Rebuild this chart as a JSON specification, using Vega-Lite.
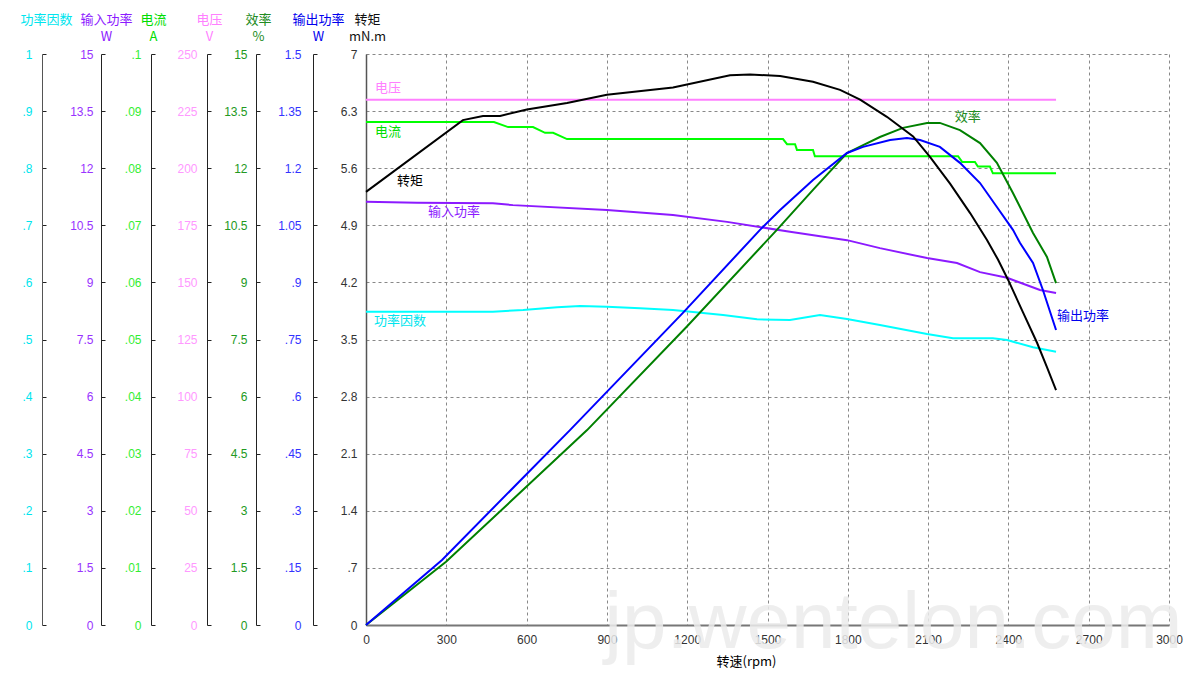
{
  "$schema": "https://vega.github.io/schema/vega-lite/v6.json",
  "width": 803,
  "height": 571,
  "autosize": {"type": "none"},
  "padding": {"left": 366, "top": 54, "right": 31, "bottom": 54},
  "background": "#ffffff",
  "config": {
    "font": "Liberation Sans",
    "view": {"stroke": null},
    "axis": {"labelFont": "Liberation Sans", "labelFontSize": 12, "titleFont": "Noto Sans CJK SC", "titleFontSize": 13, "titleFontWeight": "normal", "labelOverlap": false, "labelFlush": false}
  },
  "datasets": {
    "voltage": [{"rpm": 0, "v": 230}, {"rpm": 2578, "v": 230}],
    "current": [
      {"rpm": 0, "v": 0.0881}, {"rpm": 478, "v": 0.0881}, {"rpm": 531, "v": 0.0872}, {"rpm": 624, "v": 0.0872},
      {"rpm": 669, "v": 0.0862}, {"rpm": 699, "v": 0.0862}, {"rpm": 751, "v": 0.0851}, {"rpm": 1558, "v": 0.0851},
      {"rpm": 1573, "v": 0.0842}, {"rpm": 1603, "v": 0.0842}, {"rpm": 1610, "v": 0.0832}, {"rpm": 1670, "v": 0.0832},
      {"rpm": 1677, "v": 0.0821}, {"rpm": 2212, "v": 0.0821}, {"rpm": 2227, "v": 0.0811}, {"rpm": 2275, "v": 0.0811},
      {"rpm": 2286, "v": 0.0803}, {"rpm": 2331, "v": 0.0803}, {"rpm": 2342, "v": 0.0791}, {"rpm": 2578, "v": 0.0791}
    ],
    "pf": [
      {"rpm": 0, "v": 0.5487}, {"rpm": 474, "v": 0.5487}, {"rpm": 587, "v": 0.5517}, {"rpm": 714, "v": 0.5564},
      {"rpm": 800, "v": 0.5587}, {"rpm": 900, "v": 0.5574}, {"rpm": 1024, "v": 0.5546}, {"rpm": 1147, "v": 0.5517},
      {"rpm": 1334, "v": 0.5429}, {"rpm": 1461, "v": 0.5354}, {"rpm": 1584, "v": 0.5341}, {"rpm": 1696, "v": 0.5429},
      {"rpm": 1797, "v": 0.5359}, {"rpm": 1920, "v": 0.5254}, {"rpm": 2096, "v": 0.5096}, {"rpm": 2193, "v": 0.5021},
      {"rpm": 2342, "v": 0.5021}, {"rpm": 2395, "v": 0.4991}, {"rpm": 2492, "v": 0.4863}, {"rpm": 2578, "v": 0.4786}
    ],
    "pin": [
      {"rpm": 0, "v": 11.12}, {"rpm": 191, "v": 11.09}, {"rpm": 474, "v": 11.08}, {"rpm": 549, "v": 11.03},
      {"rpm": 900, "v": 10.9}, {"rpm": 1147, "v": 10.77}, {"rpm": 1349, "v": 10.59}, {"rpm": 1584, "v": 10.33},
      {"rpm": 1797, "v": 10.11}, {"rpm": 1920, "v": 9.9}, {"rpm": 2096, "v": 9.64}, {"rpm": 2208, "v": 9.51},
      {"rpm": 2294, "v": 9.27}, {"rpm": 2395, "v": 9.12}, {"rpm": 2518, "v": 8.8}, {"rpm": 2578, "v": 8.72}
    ],
    "eff": [
      {"rpm": 0, "v": 0}, {"rpm": 299, "v": 1.66}, {"rpm": 826, "v": 5.12}, {"rpm": 1199, "v": 7.84},
      {"rpm": 1535, "v": 10.38}, {"rpm": 1670, "v": 11.43}, {"rpm": 1797, "v": 12.4}, {"rpm": 1920, "v": 12.82},
      {"rpm": 2006, "v": 13.06}, {"rpm": 2096, "v": 13.19}, {"rpm": 2144, "v": 13.19}, {"rpm": 2219, "v": 13.0},
      {"rpm": 2294, "v": 12.66}, {"rpm": 2357, "v": 12.14}, {"rpm": 2417, "v": 11.35}, {"rpm": 2492, "v": 10.3},
      {"rpm": 2544, "v": 9.67}, {"rpm": 2578, "v": 8.98}
    ],
    "pout": [
      {"rpm": 0, "v": 0}, {"rpm": 284, "v": 0.171}, {"rpm": 762, "v": 0.512}, {"rpm": 1184, "v": 0.82},
      {"rpm": 1472, "v": 1.038}, {"rpm": 1547, "v": 1.09}, {"rpm": 1670, "v": 1.169}, {"rpm": 1797, "v": 1.24},
      {"rpm": 1857, "v": 1.256}, {"rpm": 1958, "v": 1.274}, {"rpm": 2021, "v": 1.279}, {"rpm": 2070, "v": 1.274},
      {"rpm": 2144, "v": 1.256}, {"rpm": 2219, "v": 1.214}, {"rpm": 2294, "v": 1.161}, {"rpm": 2357, "v": 1.098},
      {"rpm": 2417, "v": 1.038}, {"rpm": 2443, "v": 1.004}, {"rpm": 2492, "v": 0.951}, {"rpm": 2529, "v": 0.88},
      {"rpm": 2578, "v": 0.775}
    ],
    "torque": [
      {"rpm": 0, "v": 5.31}, {"rpm": 362, "v": 6.19}, {"rpm": 437, "v": 6.24}, {"rpm": 501, "v": 6.24},
      {"rpm": 601, "v": 6.32}, {"rpm": 751, "v": 6.4}, {"rpm": 900, "v": 6.5}, {"rpm": 1147, "v": 6.59},
      {"rpm": 1360, "v": 6.74}, {"rpm": 1435, "v": 6.75}, {"rpm": 1547, "v": 6.73}, {"rpm": 1670, "v": 6.66},
      {"rpm": 1771, "v": 6.56}, {"rpm": 1846, "v": 6.44}, {"rpm": 1946, "v": 6.23}, {"rpm": 2044, "v": 5.99},
      {"rpm": 2107, "v": 5.74}, {"rpm": 2182, "v": 5.41}, {"rpm": 2257, "v": 5.05}, {"rpm": 2320, "v": 4.72},
      {"rpm": 2361, "v": 4.48}, {"rpm": 2399, "v": 4.23}, {"rpm": 2455, "v": 3.83}, {"rpm": 2507, "v": 3.46},
      {"rpm": 2544, "v": 3.16}, {"rpm": 2578, "v": 2.88}
    ],
    "labels": [
      {"rpm": 34, "v": 6.58, "t": "电压"},
      {"rpm": 34, "v": 6.04, "t": "电流"},
      {"rpm": 116, "v": 5.44, "t": "转矩"},
      {"rpm": 232, "v": 5.06, "t": "输入功率"},
      {"rpm": 30, "v": 3.73, "t": "功率因数"},
      {"rpm": 2200, "v": 6.23, "t": "效率"},
      {"rpm": 2582, "v": 3.79, "t": "输出功率"}
    ],
    "wm": [{"rpm": 1970, "v": -0.28, "t": "jp.wentelon.com"}]
  },
  "encoding": {
    "x": {
      "field": "rpm", "type": "quantitative",
      "scale": {"domain": [0, 3000], "nice": false, "zero": false},
      "axis": {
        "values": [0, 300, 600, 900, 1200, 1500, 1800, 2100, 2400, 2700, 3000],
        "format": "d",
        "grid": true, "gridDash": [3, 3], "gridColor": "#888888", "gridWidth": 1,
        "ticks": false, "domainColor": "#777777", "domainWidth": 2,
        "labelColor": "#333333", "labelPadding": 9, "labelFontSize": 12,
        "title": "转速(rpm)", "titleX": 380, "titleY": 36, "titleAlign": "center", "titleBaseline": "middle",
        "titleColor": "#000000", "titleFontSize": 13
      }
    }
  },
  "layer": [
    {
      "data": {"name": "voltage"},
      "mark": {"type": "line", "color": "#FF80FF", "strokeWidth": 2},
      "encoding": {"y": {"field": "v", "type": "quantitative", "scale": {"domain": [0, 250], "nice": false, "zero": false},
        "axis": {"orient": "left", "offset": 159, "values": [0, 25, 50, 75, 100, 125, 150, 175, 200, 225, 250], "grid": false,
          "domainColor": "#222222", "domainWidth": 1, "tickColor": "#222222", "tickSize": -4, "labelPadding": 14, "labelColor": "#FF99FF",
          "labelExpr": "datum.value > 0 && datum.value < 1 ? slice(format(datum.value, '.3~f'), 1) : format(datum.value, '.3~f')",
          "title": ["电压", "V"], "titleColor": "#FF80FF", "titleAngle": 0, "titleAlign": "center", "titleBaseline": "alphabetic", "titleX": 2, "titleY": -31, "titleLineHeight": 17}}}
    },
    {
      "data": {"name": "current"},
      "mark": {"type": "line", "color": "#00FF00", "strokeWidth": 2},
      "encoding": {"y": {"field": "v", "type": "quantitative", "scale": {"domain": [0, 0.1], "nice": false, "zero": false},
        "axis": {"orient": "left", "offset": 215, "values": [0, 0.01, 0.02, 0.03, 0.04, 0.05, 0.06, 0.07, 0.08, 0.09, 0.1], "grid": false,
          "domainColor": "#222222", "domainWidth": 1, "tickColor": "#222222", "tickSize": -4, "labelPadding": 14, "labelColor": "#33EE33",
          "labelExpr": "datum.value > 0 && datum.value < 1 ? slice(format(datum.value, '.3~f'), 1) : format(datum.value, '.3~f')",
          "title": ["电流", "A"], "titleColor": "#00DD00", "titleAngle": 0, "titleAlign": "center", "titleBaseline": "alphabetic", "titleX": 2, "titleY": -31, "titleLineHeight": 17}}}
    },
    {
      "data": {"name": "pf"},
      "mark": {"type": "line", "color": "#00FFFF", "strokeWidth": 2},
      "encoding": {"y": {"field": "v", "type": "quantitative", "scale": {"domain": [0, 1], "nice": false, "zero": false},
        "axis": {"orient": "left", "offset": 324, "values": [0, 0.1, 0.2, 0.3, 0.4, 0.5, 0.6, 0.7, 0.8, 0.9, 1], "grid": false,
          "domainColor": "#555555", "domainWidth": 1, "tickColor": "#222222", "tickSize": -4, "labelPadding": 14, "labelColor": "#00E5EE",
          "labelExpr": "datum.value > 0 && datum.value < 1 ? slice(format(datum.value, '.3~f'), 1) : format(datum.value, '.3~f')",
          "title": ["功率因数", " "], "titleColor": "#00E5EE", "titleAngle": 0, "titleAlign": "center", "titleBaseline": "alphabetic", "titleX": 4, "titleY": -31, "titleLineHeight": 17}}}
    },
    {
      "data": {"name": "pin"},
      "mark": {"type": "line", "color": "#8C1AFF", "strokeWidth": 2},
      "encoding": {"y": {"field": "v", "type": "quantitative", "scale": {"domain": [0, 15], "nice": false, "zero": false},
        "axis": {"orient": "left", "offset": 265, "values": [0, 1.5, 3, 4.5, 6, 7.5, 9, 10.5, 12, 13.5, 15], "grid": false,
          "domainColor": "#222222", "domainWidth": 1, "tickColor": "#222222", "tickSize": -4, "labelPadding": 12, "labelColor": "#9933FF",
          "labelExpr": "datum.value > 0 && datum.value < 1 ? slice(format(datum.value, '.3~f'), 1) : format(datum.value, '.3~f')",
          "title": ["输入功率", "W"], "titleColor": "#8C1AFF", "titleAngle": 0, "titleAlign": "center", "titleBaseline": "alphabetic", "titleX": 5, "titleY": -31, "titleLineHeight": 17}}}
    },
    {
      "data": {"name": "eff"},
      "mark": {"type": "line", "color": "#008000", "strokeWidth": 2},
      "encoding": {"y": {"field": "v", "type": "quantitative", "scale": {"domain": [0, 15], "nice": false, "zero": false},
        "axis": {"orient": "left", "offset": 110, "values": [0, 1.5, 3, 4.5, 6, 7.5, 9, 10.5, 12, 13.5, 15], "grid": false,
          "domainColor": "#222222", "domainWidth": 1, "tickColor": "#222222", "tickSize": -4, "labelPadding": 13, "labelColor": "#229922",
          "labelExpr": "datum.value > 0 && datum.value < 1 ? slice(format(datum.value, '.3~f'), 1) : format(datum.value, '.3~f')",
          "title": ["效率", "%"], "titleColor": "#228B22", "titleAngle": 0, "titleAlign": "center", "titleBaseline": "alphabetic", "titleX": 2, "titleY": -31, "titleLineHeight": 17}}}
    },
    {
      "data": {"name": "pout"},
      "mark": {"type": "line", "color": "#0000FF", "strokeWidth": 2},
      "encoding": {"y": {"field": "v", "type": "quantitative", "scale": {"domain": [0, 1.5], "nice": false, "zero": false},
        "axis": {"orient": "left", "offset": 53, "values": [0, 0.15, 0.3, 0.45, 0.6, 0.75, 0.9, 1.05, 1.2, 1.35, 1.5], "grid": false,
          "domainColor": "#222222", "domainWidth": 1, "tickColor": "#222222", "tickSize": -4, "labelPadding": 16, "labelColor": "#3333FF",
          "labelExpr": "datum.value > 0 && datum.value < 1 ? slice(format(datum.value, '.3~f'), 1) : format(datum.value, '.3~f')",
          "title": ["输出功率", "W"], "titleColor": "#0000EE", "titleAngle": 0, "titleAlign": "center", "titleBaseline": "alphabetic", "titleX": 5, "titleY": -31, "titleLineHeight": 17}}}
    },
    {
      "data": {"name": "torque"},
      "mark": {"type": "line", "color": "#000000", "strokeWidth": 2},
      "encoding": {"y": {"field": "v", "type": "quantitative", "scale": {"domain": [0, 7], "nice": false, "zero": false},
        "axis": {"orient": "left", "offset": 0, "values": [0, 0.7, 1.4, 2.1, 2.8, 3.5, 4.2, 4.9, 5.6, 6.3, 7],
          "grid": true, "gridDash": [3, 3], "gridColor": "#888888", "gridWidth": 1,
          "domainColor": "#555555", "domainWidth": 1.5, "ticks": false, "labelPadding": 9, "labelColor": "#333333",
          "labelExpr": "datum.value > 0 && datum.value < 1 ? slice(format(datum.value, '.3~f'), 1) : format(datum.value, '.3~f')",
          "title": ["转矩", "mN.m"], "titleColor": "#111111", "titleAngle": 0, "titleAlign": "center", "titleBaseline": "alphabetic", "titleX": 1, "titleY": -31, "titleLineHeight": 17}}}
    },
    {
      "data": {"name": "labels"},
      "mark": {"type": "text", "align": "left", "baseline": "middle", "font": "Noto Sans CJK SC", "fontSize": 13},
      "encoding": {
        "y": {"field": "v", "type": "quantitative", "scale": {"domain": [0, 7], "nice": false, "zero": false}, "axis": null},
        "text": {"field": "t"},
        "color": {"field": "t", "type": "nominal", "legend": null,
          "scale": {"domain": ["电压", "电流", "转矩", "输入功率", "功率因数", "效率", "输出功率"],
                    "range": ["#FF80FF", "#00DD00", "#000000", "#8C1AFF", "#00E5EE", "#228B22", "#0000EE"]}}
      }
    },
    {
      "data": {"name": "wm"},
      "mark": {"type": "text", "align": "center", "baseline": "alphabetic", "font": "Liberation Sans", "fontSize": 80, "color": "#ececec", "opacity": 0.85},
      "encoding": {
        "y": {"field": "v", "type": "quantitative", "scale": {"domain": [0, 7], "nice": false, "zero": false}, "axis": null},
        "text": {"field": "t"}
      }
    }
  ],
  "resolve": {"scale": {"y": "independent", "color": "independent"}}
}
